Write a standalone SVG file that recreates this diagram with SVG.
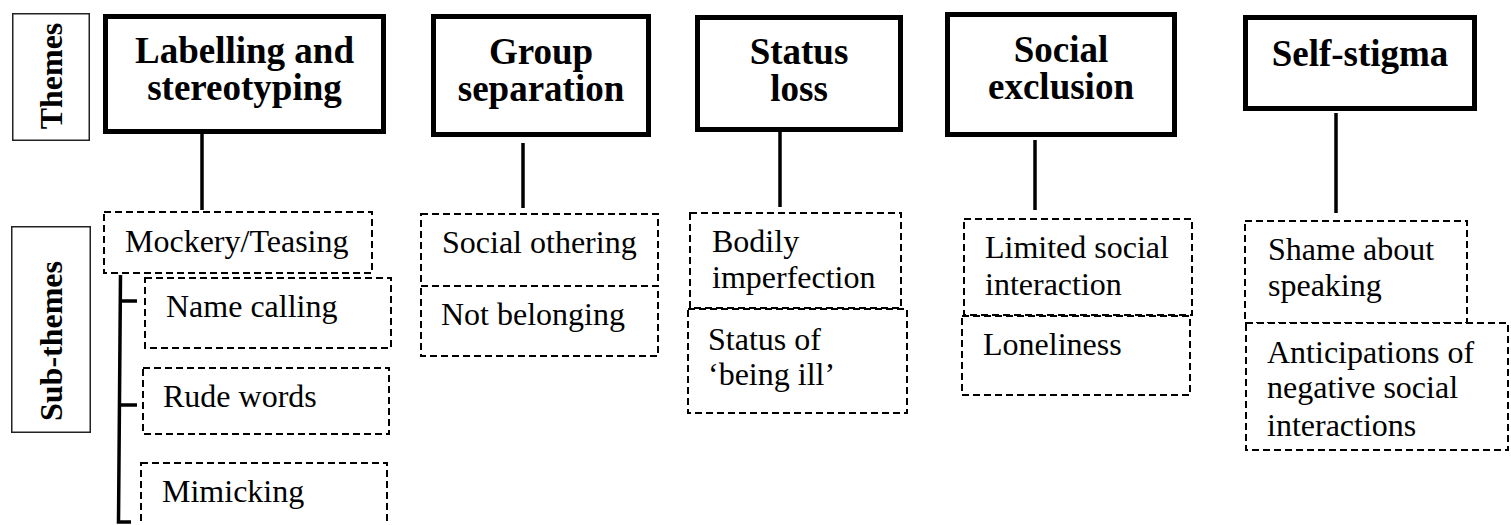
<svg xmlns="http://www.w3.org/2000/svg" width="1511" height="525" viewBox="0 0 1511 525">
<style>
.bg{fill:#ffffff}
.lab{fill:#fff;stroke:#222;stroke-width:1.5}
.theme{fill:#fff;stroke:#000;stroke-width:5}
.sub{fill:#fff;stroke:#000;stroke-width:2;stroke-dasharray:7 4}
text{font-family:'Liberation Serif','Tinos','Times New Roman','DejaVu Serif',serif;fill:#000}
.tb{font-weight:bold;font-size:37px;text-anchor:middle}
.lb{font-weight:bold;font-size:32px;text-anchor:middle}
.ts{font-size:32px}
.con{stroke:#000;stroke-width:3.5;fill:none}
</style>
<rect class="bg" x="0" y="0" width="1511" height="525"/>

<g id="label-themes">
<rect class="lab" x="12.75" y="13.75" width="76.5" height="126.5"/>
<text class="lb" font-family="Liberation Serif, serif" transform="translate(62,76) rotate(-90)">Themes</text>
</g>
<g id="label-subthemes">
<rect class="lab" x="11.75" y="226.75" width="78.5" height="205.5"/>
<text class="lb" font-family="Liberation Serif, serif" transform="translate(62,341) rotate(-90)">Sub-themes</text>
</g>

<g id="connectors">
<line class="con" x1="202" y1="134" x2="202" y2="210"/>
<line class="con" x1="523" y1="143" x2="523" y2="208"/>
<line class="con" x1="780" y1="132" x2="780" y2="207"/>
<line class="con" x1="1035" y1="140" x2="1035" y2="210"/>
<line class="con" x1="1336" y1="113" x2="1336" y2="213"/>
<path class="con" d="M120.5,275 L118.5,522 L131,522" stroke-width="4"/>
<line class="con" x1="119" y1="301" x2="137" y2="301" stroke-width="3"/>
<line class="con" x1="119" y1="405" x2="137" y2="405" stroke-width="3"/>
</g>

<g id="theme-labelling">
<rect class="theme" x="105.5" y="16.5" width="278" height="115"/>
<text class="tb" x="244.5" y="63">Labelling and</text>
<text class="tb" x="244.5" y="100">stereotyping</text>
</g>
<g id="theme-group">
<rect class="theme" x="433.5" y="16.5" width="215" height="118"/>
<text class="tb" x="541" y="64">Group</text>
<text class="tb" x="541" y="101">separation</text>
</g>
<g id="theme-status">
<rect class="theme" x="697.5" y="17.5" width="203" height="112"/>
<text class="tb" x="799" y="64">Status</text>
<text class="tb" x="799" y="101">loss</text>
</g>
<g id="theme-social">
<rect class="theme" x="947.5" y="14.5" width="227" height="120"/>
<text class="tb" x="1061" y="62">Social</text>
<text class="tb" x="1061" y="99">exclusion</text>
</g>
<g id="theme-self">
<rect class="theme" x="1245.5" y="17.5" width="229" height="91"/>
<text class="tb" x="1360" y="66">Self-stigma</text>
</g>

<g id="sub-mockery">
<rect class="sub" x="104" y="212" width="268" height="61"/>
<text class="ts" x="125" y="252">Mockery/Teasing</text>
</g>
<g id="sub-name">
<rect class="sub" x="145" y="278" width="246" height="70"/>
<text class="ts" x="166" y="317">Name calling</text>
</g>
<g id="sub-rude">
<rect class="sub" x="143" y="368" width="246" height="66"/>
<text class="ts" x="163" y="407">Rude words</text>
</g>
<g id="sub-mimicking">
<rect class="sub" x="141" y="463" width="246" height="80"/>
<text class="ts" x="162" y="502">Mimicking</text>
</g>

<g id="sub-othering">
<rect class="sub" x="421" y="214" width="237" height="72"/>
<text class="ts" x="442" y="253">Social othering</text>
</g>
<g id="sub-belonging">
<rect class="sub" x="421" y="286" width="237" height="70"/>
<text class="ts" x="441" y="325">Not belonging</text>
</g>

<g id="sub-bodily">
<rect class="sub" x="690" y="213" width="211" height="95"/>
<text class="ts" x="712" y="252">Bodily</text>
<text class="ts" x="712" y="288">imperfection</text>
</g>
<g id="sub-ill">
<rect class="sub" x="688" y="309" width="219" height="104"/>
<text class="ts" x="708" y="350">Status of</text>
<text class="ts" x="708" y="385">‘being ill’</text>
</g>

<g id="sub-limited">
<rect class="sub" x="964" y="219" width="228" height="96"/>
<text class="ts" x="985" y="258">Limited social</text>
<text class="ts" x="985" y="295">interaction</text>
</g>
<g id="sub-loneliness">
<rect class="sub" x="962" y="316" width="228" height="79"/>
<text class="ts" x="983" y="355">Loneliness</text>
</g>

<g id="sub-shame">
<rect class="sub" x="1245" y="221" width="222" height="102"/>
<text class="ts" x="1268" y="260">Shame about</text>
<text class="ts" x="1268" y="296">speaking</text>
</g>
<g id="sub-anticipations">
<rect class="sub" x="1246" y="323" width="262" height="127"/>
<text class="ts" x="1267" y="363">Anticipations of</text>
<text class="ts" x="1267" y="398">negative social</text>
<text class="ts" x="1267" y="436">interactions</text>
</g>
</svg>
